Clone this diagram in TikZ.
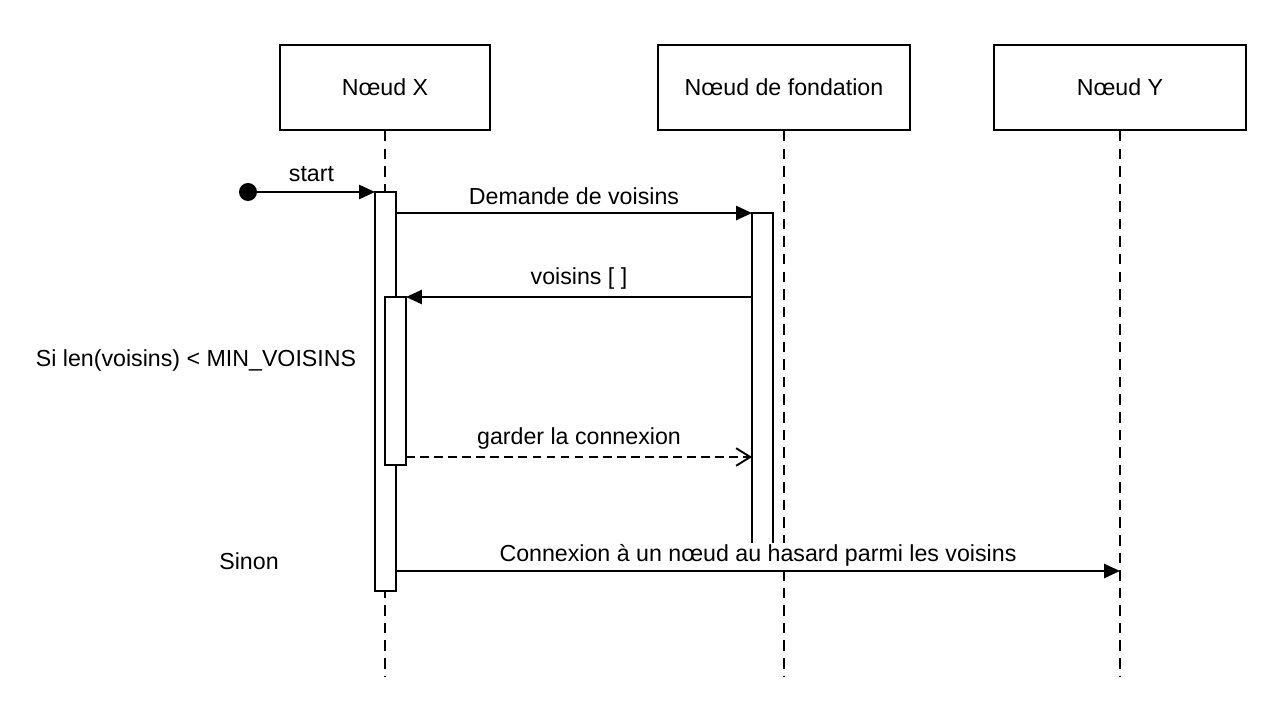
\documentclass[tikz,border=0pt]{standalone}
\usepackage{fontspec}
\setmainfont{Liberation Sans}
\usepackage{xcolor}
\usetikzlibrary{arrows.meta,calc}

\begin{document}
\begin{tikzpicture}[x=0.02cm, y=-0.02cm,
        every node/.style={font=\fontsize{13.2}{16}\selectfont},
        actor/.style={draw, line width=1.1pt, minimum height=1.7cm, inner sep=0pt},
        bar/.style={draw, fill=white, line width=1.1pt, minimum width=0.42cm, inner sep=0pt, outer sep=0pt},
        life/.style={dashed, dash pattern=on 6pt off 4pt, line width=1.1pt},
        msg/.style={line width=1.1pt, -{Triangle[length=9pt,width=8pt]}},
        reply/.style={line width=1.1pt, dash pattern=on 5pt off 3pt, -{Straight Barb[length=8pt,width=10pt,line width=1.1pt]}},
        lbl/.style={fill=white, inner sep=1pt}]
        \useasboundingbox (0,0) rectangle (1261,712);

        % Actors at the top
        \node[actor, minimum width=4.2cm] (X) at (385,87.5) {Nœud X};
        \node[actor, minimum width=5.04cm] (F) at (784,87.5) {Nœud de fondation};
        \node[actor, minimum width=5.04cm] (Y) at (1120,87.5) {Nœud Y};

        % Lifelines, down to the bottom
        \coordinate (Xend) at (385,677);
        \draw[life] (X.south) -- (X.south |- Xend);
        \draw[life] (F.south) -- (F.south |- Xend);
        \draw[life] (Y.south) -- (Y.south |- Xend);

        % Activation bars
        \node[bar, minimum height=7.98cm] (barX) at (385.5,391.5) {};
        \node[bar, minimum height=6.64cm] (barF) at (762.5,379) {};
        \node[bar, minimum height=3.36cm] (barXin) at (395.5,381) {};

        % Start point
        \coordinate (dot) at (248,192);
        \fill (dot) circle (9);
        \draw[msg] (dot) -- (barX.west |- dot)
            node[midway, above=2pt] {start};

        % Messages
        \draw[msg] (barX.east |- barF.north west) -- (barF.north west)
            node[midway, above=3pt, lbl] {Demande de voisins};
        \draw[msg] (barF.west |- barXin.north) -- (barXin.north east)
            node[midway, above=3pt, lbl] {voisins [ ]};

        \coordinate (keep) at (0,457);
        \draw[reply] (barXin.east |- keep) -- (barF.west |- keep)
            node[midway, above=3pt, lbl] {garder la connexion};

        \coordinate (rand) at (0,571);
        \draw[msg] (barX.east |- rand) -- (Y.south |- rand)
            node[midway, above=1pt, lbl] {Connexion à un nœud au hasard parmi les voisins};

        % Conditions on the left
        \node (cond) at (196,361) {Si len(voisins) < MIN\_VOISINS};
        \node (else) at (249,561) {Sinon};
    \end{tikzpicture}
\end{document}
